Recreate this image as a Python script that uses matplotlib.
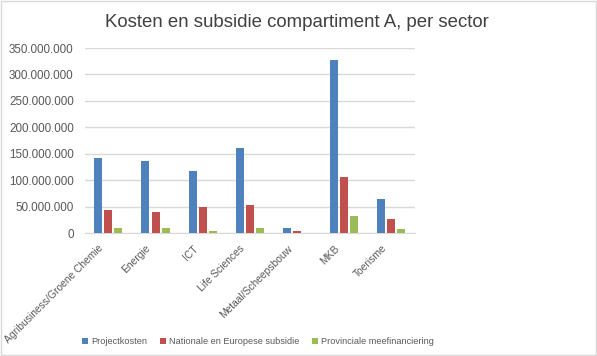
import matplotlib
matplotlib.use("Agg")
import matplotlib.pyplot as plt
import matplotlib.transforms as mtransforms
import numpy as np
from matplotlib.patches import Rectangle
from matplotlib.ticker import FuncFormatter

sectors = ["Agribusiness/Groene Chemie", "Energie", "ICT", "Life Sciences",
           "Metaal/Scheepsbouw", "MKB", "Toerisme"]
projectkosten = [142500000, 137000000, 118000000, 161000000, 10000000, 328000000, 65000000]
subsidie = [44000000, 40000000, 50000000, 53500000, 4500000, 106500000, 27000000]
provinciaal = [10000000, 10000000, 4500000, 10000000, 0, 33000000, 8000000]
series_names = ["Projectkosten", "Nationale en Europese subsidie", "Provinciale meefinanciering"]
colors = ["#4F81BD", "#C0504D", "#9BBB59"]

plt.rcParams['font.family'] = ['Liberation Sans', 'DejaVu Sans']

fig = plt.figure(figsize=(5.97, 3.56), dpi=100)
ax = fig.add_axes([0.142, 0.3455, 0.553, 0.5195])

x = np.arange(len(sectors))
width = 0.17
step = 0.213
for i, (vals, name) in enumerate(zip([projectkosten, subsidie, provinciaal], series_names)):
    ax.bar(x + (i - 1) * step, vals, width, color=colors[i], label=name, zorder=3)

ax.set_xlim(-0.5, len(sectors) - 0.5)
ax.set_ylim(0, 350000000)
ax.set_yticks(range(0, 350000001, 50000000))
ax.yaxis.set_major_formatter(FuncFormatter(lambda v, p: f"{int(v):,}".replace(",", ".")))
ax.grid(axis='y', color='#D9D9D9', linewidth=1, zorder=0)
for s in ['top', 'right', 'left']:
    ax.spines[s].set_visible(False)
ax.spines['bottom'].set_color('#D9D9D9')
ax.tick_params(axis='both', length=0, colors='#595959')
ax.tick_params(axis='y', labelsize=8.4, pad=8)
ax.tick_params(axis='x', labelsize=7.4, pad=6)
ax.set_xticks(x)
ax.set_xticklabels(sectors, rotation=45, ha='right', rotation_mode='anchor')
shift = mtransforms.ScaledTranslation(-10 / 100, -2 / 100, fig.dpi_scale_trans)
for lbl in ax.get_xticklabels():
    lbl.set_transform(lbl.get_transform() + shift)

fig.text(0.497, 0.938, "Kosten en subsidie compartiment A, per sector",
         ha='center', va='center', fontsize=13.4, color='#404040')

fig.legend(loc='center', bbox_to_anchor=(0.432, 0.04), ncol=3, frameon=False,
           fontsize=6.6, handlelength=0.7, handleheight=0.7, handletextpad=0.3,
           columnspacing=1.4, labelcolor='#595959')

fig.patches.append(Rectangle((0.002, 0.003), 0.996, 0.994, transform=fig.transFigure,
                             fill=False, edgecolor='#D9D9D9', linewidth=1))

fig.savefig("out.png", dpi=100)
